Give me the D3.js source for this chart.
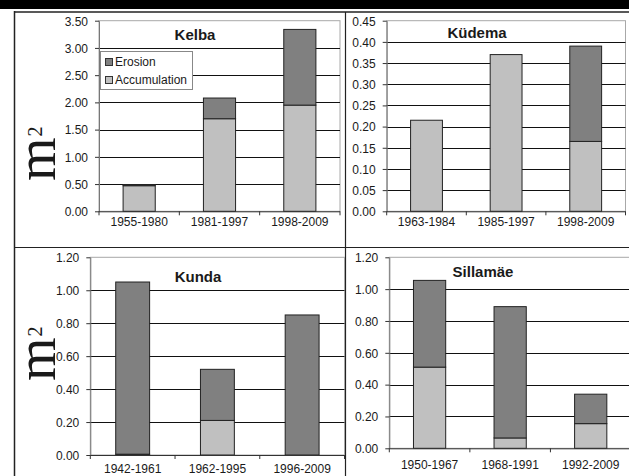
<!DOCTYPE html>
<html>
<head>
<meta charset="utf-8">
<script src="https://cdn.jsdelivr.net/npm/d3@7/dist/d3.min.js"></script>
<style>
  html, body { margin: 0; padding: 0; background: #fff; }
  svg { display: block; }
  text { font-family: "Liberation Sans", Arial, sans-serif; fill: #1a1a1a; }
</style>
</head>
<body>
<div id="chart"></div>
<script>
// Shoreline change (m²) per period at four Estonian coastal sites
const kelbaPeriods = ["1955-1980", "1981-1997", "1998-2009"];
const kelbaAccumulation = [0.47, 1.70, 1.95];
const kelbaErosion = [0.02, 0.38, 1.39];

const kudemaPeriods = ["1963-1984", "1985-1997", "1998-2009"];
const kudemaAccumulation = [0.215, 0.37, 0.165];
const kudemaErosion = [0, 0, 0.225];

const kundaPeriods = ["1942-1961", "1962-1995", "1996-2009"];
const kundaAccumulation = [0.005, 0.21, 0];
const kundaErosion = [1.045, 0.31, 0.85];

const sillamaePeriods = ["1950-1967", "1968-1991", "1992-2009"];
const sillamaeAccumulation = [0.51, 0.065, 0.155];
const sillamaeErosion = [0.545, 0.825, 0.185];

const seriesNames = ["Erosion", "Accumulation"];
const yMaxima = [3.5, 0.45, 1.2, 1.2];
const ySteps = [0.5, 0.05, 0.2, 0.2];

const colors = { Erosion: "#808080", Accumulation: "#c0c0c0" };

// Panel geometry
const panels = [
  { title: "Kelba", periods: kelbaPeriods, acc: kelbaAccumulation, ero: kelbaErosion,
    x0: 99, x1: 340, yT: 20.7, yB: 211.3, tx: 195, ty: 40, labelDy: 15, legend: true },
  { title: "Küdema", periods: kudemaPeriods, acc: kudemaAccumulation, ero: kudemaErosion,
    x0: 386.7, x1: 625.5, yT: 20.7, yB: 211.3, tx: 477, ty: 38.3, labelDy: 15 },
  { title: "Kunda", periods: kundaPeriods, acc: kundaAccumulation, ero: kundaErosion,
    x0: 90.3, x1: 344.5, yT: 257.3, yB: 455, tx: 198, ty: 282.3, labelDy: 17.5 },
  { title: "Sillamäe", periods: sillamaePeriods, acc: sillamaeAccumulation, ero: sillamaeErosion,
    x0: 389.3, x1: 631, yT: 257.3, yB: 448.3, tx: 483, ty: 277.3, labelDy: 20.7 }
];

const W = 629, H = 476;
const svg = d3.select("#chart").append("svg").attr("width", W).attr("height", H);

// Page frame
svg.append("rect").attr("x", 0).attr("y", 0).attr("width", W).attr("height", 9).attr("fill", "#000");
svg.append("line").attr("x1", 14).attr("x2", W).attr("y1", 12).attr("y2", 12)
  .attr("stroke", "#222").attr("stroke-width", 1.5);
svg.append("line").attr("x1", 14.5).attr("x2", 14.5).attr("y1", 11).attr("y2", H)
  .attr("stroke", "#222").attr("stroke-width", 1.5);
svg.append("line").attr("x1", 345.5).attr("x2", 345.5).attr("y1", 12).attr("y2", H)
  .attr("stroke", "#222").attr("stroke-width", 1.2);
svg.append("line").attr("x1", 14).attr("x2", W).attr("y1", 247.5).attr("y2", 247.5)
  .attr("stroke", "#222").attr("stroke-width", 1.2);

// Unit labels (m²) on the left of each row
[181, 381].forEach(y0 => {
  const t = svg.append("text")
    .attr("transform", `translate(55,${y0}) rotate(-90)`)
    .style("font-family", "'Liberation Serif', 'Times New Roman', serif")
    .attr("fill", "#1a1a1a");
  t.append("tspan").style("font-size", "56px").text("m");
  t.append("tspan").style("font-size", "20px").attr("dy", -13).attr("dx", 1).text("2");
});

panels.forEach((p, i) => {
  const yMax = yMaxima[i], yStep = ySteps[i];
  const tickVals = d3.range(0, Math.round(yMax / yStep) + 1).map(k => +(k * yStep).toFixed(4));

  const x = d3.scaleBand().domain(p.periods).range([p.x0, p.x1])
    .paddingInner(0.6).paddingOuter(0.3);
  const y = d3.scaleLinear().domain([0, yMax]).range([p.yB, p.yT]);
  const step = x.step();

  const g = svg.append("g");

  // plot area
  g.append("rect").attr("x", p.x0).attr("y", p.yT)
    .attr("width", p.x1 - p.x0).attr("height", p.yB - p.yT)
    .attr("fill", "#fff").attr("stroke", "#a8a8a8").attr("stroke-width", 1);

  // gridlines
  g.selectAll("line.grid").data(tickVals.filter(v => v > 0 && v < yMax - 1e-9))
    .join("line").attr("class", "grid")
    .attr("x1", p.x0).attr("x2", p.x1)
    .attr("y1", d => Math.round(y(d)) + 0.5).attr("y2", d => Math.round(y(d)) + 0.5)
    .attr("stroke", "#111").attr("stroke-width", 1);

  // stacked bars: accumulation below, erosion above
  p.periods.forEach((per, j) => {
    const a = p.acc[j], e = p.ero[j];
    const bx = x(per), bw = x.bandwidth();
    if (a > 0) {
      g.append("rect").attr("x", bx).attr("y", y(a)).attr("width", bw).attr("height", y(0) - y(a))
        .attr("fill", colors.Accumulation).attr("stroke", "#222").attr("stroke-width", 1);
    }
    if (e > 0) {
      g.append("rect").attr("x", bx).attr("y", y(a + e)).attr("width", bw).attr("height", y(a) - y(a + e))
        .attr("fill", colors.Erosion).attr("stroke", "#222").attr("stroke-width", 1);
    }
  });

  // y axis
  const yAxis = d3.axisLeft(y).tickValues(tickVals).tickFormat(d3.format(".2f"))
    .tickSizeInner(4).tickSizeOuter(0).tickPadding(7);
  const ya = g.append("g").attr("transform", `translate(${p.x0},0)`).call(yAxis);
  ya.select(".domain").attr("stroke", "#777");
  ya.selectAll(".tick line").attr("stroke", "#333");
  ya.selectAll(".tick text").style("font-size", "12px").attr("fill", "#1a1a1a")
    .attr("dy", "0.36em");

  // x axis line with category boundary ticks
  g.append("line").attr("x1", p.x0).attr("x2", p.x1)
    .attr("y1", p.yB + 0.5).attr("y2", p.yB + 0.5).attr("stroke", "#333");
  g.selectAll("line.xt").data(d3.range(0, p.periods.length + 1))
    .join("line").attr("class", "xt")
    .attr("x1", k => p.x0 + k * step).attr("x2", k => p.x0 + k * step)
    .attr("y1", p.yB).attr("y2", p.yB + 4).attr("stroke", "#333");
  g.selectAll("text.xl").data(p.periods).join("text").attr("class", "xl")
    .attr("x", d => x(d) + x.bandwidth() / 2).attr("y", p.yB + p.labelDy)
    .attr("text-anchor", "middle").style("font-size", "12px").text(d => d);

  // title
  g.append("text").attr("x", p.tx).attr("y", p.ty).attr("text-anchor", "middle")
    .style("font-size", "15px").style("font-weight", "bold").attr("fill", "#000").text(p.title);

  // legend
  if (p.legend) {
    const lg = g.append("g");
    lg.append("rect").attr("x", 100.5).attr("y", 51.5).attr("width", 92).attr("height", 38)
      .attr("fill", "#fff").attr("stroke", "#888");
    seriesNames.forEach((s, k) => {
      const cy = 62 + k * 18;
      lg.append("rect").attr("x", 105.5).attr("y", cy - 3.5).attr("width", 7).attr("height", 7)
        .attr("fill", colors[s]).attr("stroke", "#333");
      lg.append("text").attr("x", 115).attr("y", cy + 4.3).style("font-size", "12px").text(s);
    });
  }
});
</script>
</body>
</html>
